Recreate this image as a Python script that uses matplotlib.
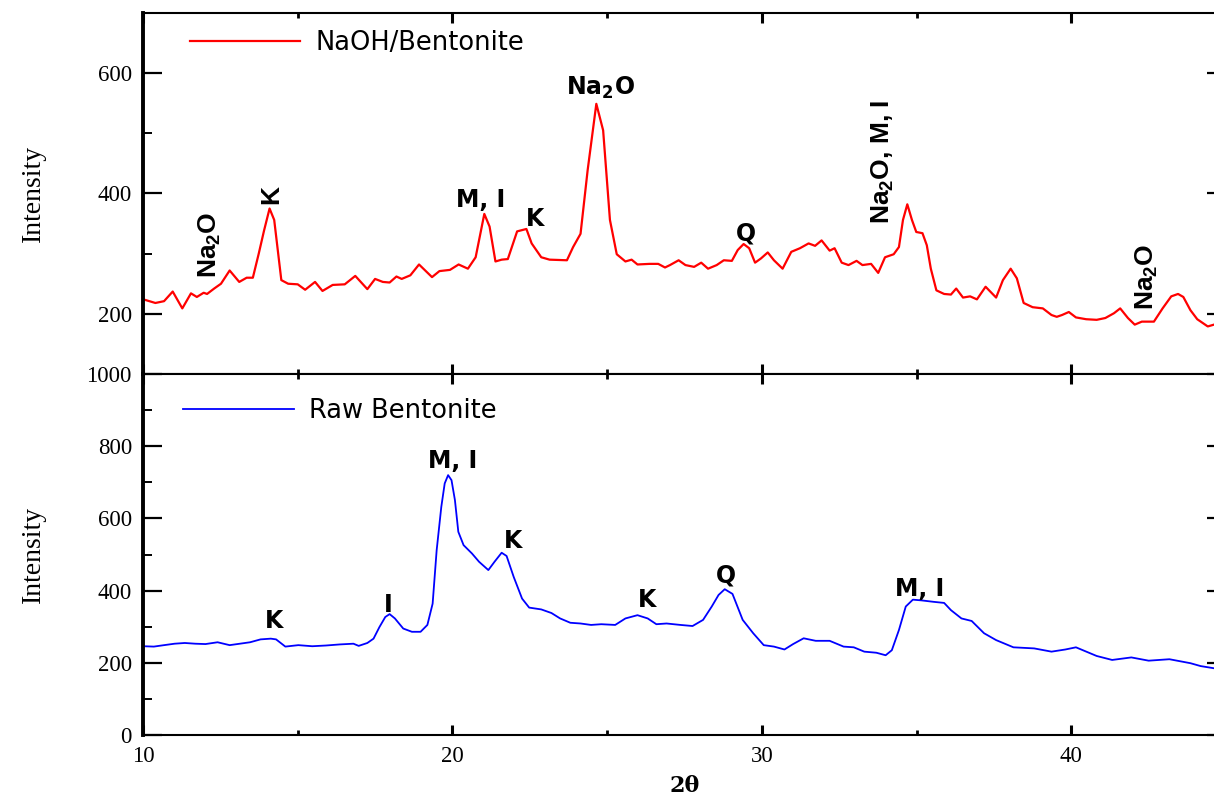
import matplotlib
matplotlib.use("Agg")
from matplotlib import pyplot as plt
from matplotlib.ticker import MultipleLocator

# NaOH/Bentonite (top panel)
naoh_2theta = [10.01, 10.40, 10.68, 10.96, 11.27, 11.55, 11.74, 11.96, 12.07, 12.30,
               12.52, 12.80, 13.11, 13.35, 13.55, 13.74, 13.91, 14.09, 14.24, 14.47,
               14.69, 15.00, 15.24, 15.56, 15.80, 16.13, 16.52, 16.86, 17.25, 17.50,
               17.75, 17.97, 18.19, 18.36, 18.64, 18.92, 19.34, 19.58, 19.92, 20.20,
               20.50, 20.75, 21.03, 21.20, 21.39, 21.59, 21.79, 22.09, 22.39, 22.56,
               22.87, 23.14, 23.70, 23.90, 24.14, 24.37, 24.65, 24.87, 25.09, 25.31,
               25.59, 25.79, 25.98, 26.37, 26.65, 26.87, 27.03, 27.31, 27.53, 27.81,
               28.04, 28.26, 28.54, 28.77, 29.03, 29.22, 29.41, 29.59, 29.78, 29.97,
               30.19, 30.39, 30.67, 30.95, 31.23, 31.51, 31.72, 31.93, 32.19, 32.35,
               32.58, 32.80, 33.06, 33.25, 33.53, 33.76, 33.98, 34.26, 34.43, 34.56,
               34.70, 34.85, 34.99, 35.19, 35.33, 35.46, 35.64, 35.89, 36.11, 36.28,
               36.50, 36.73, 36.95, 37.23, 37.57, 37.79, 38.04, 38.24, 38.46, 38.75,
               39.08, 39.36, 39.53, 39.70, 39.92, 40.15, 40.48, 40.82, 41.10, 41.38,
               41.58, 41.83, 42.05, 42.28, 42.67, 42.95, 43.23, 43.45, 43.62, 43.85,
               44.07, 44.41, 44.61]
naoh_int = [224, 218, 221, 237, 209, 234, 228, 235, 233, 242,
            250, 272, 253, 260, 260, 300, 338, 375, 356, 256,
            250, 249, 240, 253, 238, 248, 249, 263, 241, 258,
            253, 252, 262, 258, 264, 282, 261, 271, 273, 282,
            275, 294, 366, 345, 287, 290, 291, 337, 341, 317,
            294, 290, 289, 311, 333, 439, 549, 505, 356, 299,
            287, 290, 282, 283, 283, 277, 281, 289, 281, 278,
            285, 275, 281, 289, 288, 306, 316, 309, 285, 292,
            302, 289, 275, 303, 309, 317, 313, 322, 305, 309,
            285, 281, 288, 281, 283, 268, 294, 299, 311, 356,
            382, 356, 336, 334, 314, 275, 239, 233, 232, 242,
            227, 229, 224, 245, 227, 256, 275, 259, 218, 211,
            209, 198, 195, 198, 203, 194, 191, 190, 193, 201,
            209, 193, 182, 187, 187, 209, 229, 233, 228, 206,
            191, 179, 182]

# Raw Bentonite (bottom panel)
raw_2theta = [10.01, 10.35, 10.68, 11.02, 11.35, 11.69, 12.02, 12.41, 12.80, 13.13,
              13.46, 13.80, 14.13, 14.30, 14.60, 15.02, 15.47, 15.91, 16.36, 16.80,
              16.97, 17.25, 17.45, 17.64, 17.83, 17.97, 18.14, 18.41, 18.69, 18.97,
              19.19, 19.36, 19.49, 19.64, 19.75, 19.86, 19.97, 20.08, 20.19, 20.36,
              20.63, 20.86, 21.16, 21.36, 21.59, 21.75, 21.98, 22.25, 22.48, 22.87,
              23.20, 23.48, 23.81, 24.14, 24.48, 24.81, 25.26, 25.59, 25.98, 26.31,
              26.59, 26.92, 27.37, 27.76, 28.10, 28.38, 28.60, 28.80, 29.05, 29.38,
              29.72, 30.06, 30.39, 30.73, 31.01, 31.35, 31.74, 32.19, 32.64, 32.97,
              33.31, 33.70, 34.00, 34.20, 34.43, 34.65, 34.88, 35.16, 35.55, 35.89,
              36.11, 36.45, 36.78, 37.18, 37.57, 38.13, 38.80, 39.36, 39.81, 40.15,
              40.82, 41.32, 41.94, 42.50, 43.17, 43.85, 44.18, 44.61]
raw_int = [246, 245, 249, 253, 255, 253, 252, 257, 249, 253,
           257, 265, 267, 265, 245, 249, 246, 248, 251, 253,
           247, 255, 267, 299, 327, 335, 323, 295, 286, 286,
           305, 364, 512, 632, 697, 720, 706, 651, 563, 526,
           503, 480, 457, 480, 505, 496, 438, 378, 353, 348,
           338, 323, 311, 309, 305, 307, 305, 323, 332, 323,
           307, 309, 305, 302, 319, 356, 388, 404, 391, 319,
           282, 249, 245, 237, 252, 268, 261, 261, 245, 243,
           231, 228, 221, 235, 291, 356, 375, 373, 369, 366,
           346, 323, 316, 282, 263, 243, 240, 231, 237, 243,
           219, 208, 215, 206, 210, 199, 191, 185]

# peak labels: (text, 2theta, intensity, rotation)
naoh_labels = [("Na$\\mathregular{_2}$O", 12.16, 314, 90),
               ("K", 14.15, 398, 90),
               ("M, I", 20.9, 389, 0),
               ("K", 22.67, 358, 0),
               ("Na$\\mathregular{_2}$O", 24.77, 575, 0),
               ("Q", 29.48, 334, 0),
               ("Na$\\mathregular{_2}$O, M, I", 33.9, 452, 90),
               ("Na$\\mathregular{_2}$O", 42.45, 262, 90)]
raw_labels = [("K", 14.23, 316), ("I", 17.92, 360), ("M, I", 20.0, 759),
              ("K", 21.95, 537), ("K", 26.28, 374), ("Q", 28.84, 443),
              ("M, I", 35.1, 404)]

fig = plt.figure(figsize=(12.14, 8.02), dpi=100)
ax_top = fig.add_axes([0.1178, 0.5337, 0.8921, 0.4501])
ax_bot = fig.add_axes([0.1178, 0.0835, 0.8921, 0.4501])

ax_top.plot(naoh_2theta, naoh_int, color="#ff0000", linewidth=1.6, label="NaOH/Bentonite")
ax_bot.plot(raw_2theta, raw_int, color="#0000ff", linewidth=1.3, label="Raw Bentonite")

ax_top.set_ylim(100, 700)
ax_top.yaxis.set_major_locator(MultipleLocator(200))
ax_top.yaxis.set_minor_locator(MultipleLocator(100))
ax_bot.set_ylim(0, 1000)
ax_bot.yaxis.set_major_locator(MultipleLocator(200))
ax_bot.yaxis.set_minor_locator(MultipleLocator(100))

serif = "Liberation Serif"
for ax in (ax_top, ax_bot):
    ax.set_xlim(10, 45)
    ax.xaxis.set_major_locator(MultipleLocator(10))
    ax.xaxis.set_minor_locator(MultipleLocator(5))
    ax.tick_params(which="both", direction="in", top=True, right=True)
    ax.tick_params(axis="y", which="major", length=13.5, width=1.6)
    ax.tick_params(axis="y", which="minor", length=6.5, width=1.4)
    ax.tick_params(axis="x", which="major", length=7, width=2.2)
    ax.tick_params(axis="x", which="minor", length=3.5, width=2.0)
    ax.tick_params(labelsize=16.5, pad=8)
    for lab in ax.get_xticklabels() + ax.get_yticklabels():
        lab.set_fontfamily(serif)
    ax.spines["left"].set_linewidth(2.8)
    for s in ("top", "bottom", "right"):
        ax.spines[s].set_linewidth(1.5)
    ax.set_ylabel("Intensity", fontfamily=serif, fontsize=20)
    ax.yaxis.set_label_coords(-0.09, 0.5)

ax_top.tick_params(axis="x", labelbottom=False)
ax_top.set_yticks([200, 400, 600])
ax_top.set_yticklabels(["200", "400", "600"], fontfamily=serif)
ax_bot.set_xlabel("2θ", fontfamily="DejaVu Serif", fontweight="bold", fontsize=16, labelpad=6)

for text, x, y, rot in naoh_labels:
    if rot:
        ax_top.text(x, y, text, rotation=90, ha="center", va="center",
                    fontfamily="Liberation Sans", fontweight="bold", fontsize=19)
    else:
        ax_top.text(x, y, text, ha="center", va="center",
                    fontfamily="DejaVu Sans", fontweight="bold", fontsize=17)
for text, x, y in raw_labels:
    ax_bot.text(x, y, text, ha="center", va="center",
                fontfamily="DejaVu Sans", fontweight="bold", fontsize=17)

ax_top.legend(loc="center left", bbox_to_anchor=(0.043, 0.917), frameon=False,
              borderpad=0, borderaxespad=0, handlelength=4.3, handletextpad=0.6,
              prop={"family": "DejaVu Sans", "size": 18.5})
ax_bot.legend(loc="center left", bbox_to_anchor=(0.037, 0.898), frameon=False,
              borderpad=0, borderaxespad=0, handlelength=4.3, handletextpad=0.6,
              prop={"family": "DejaVu Sans", "size": 18.5})

fig.savefig("out.png", dpi=100)
